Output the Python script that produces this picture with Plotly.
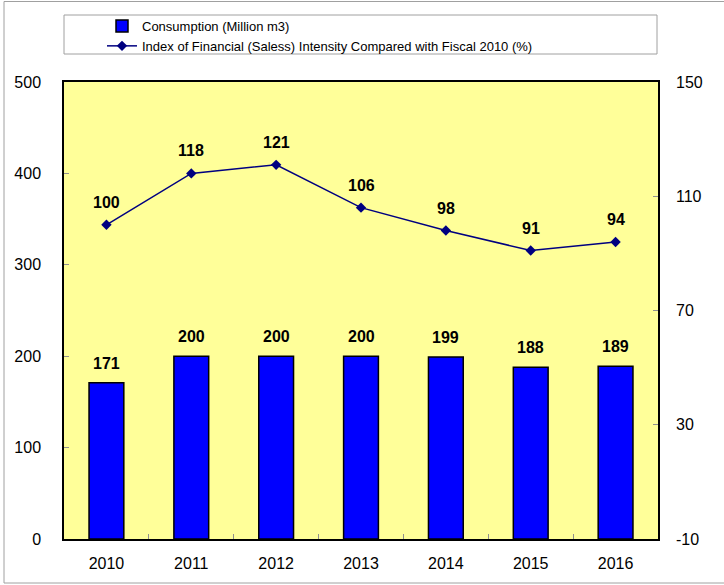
import plotly.graph_objects as go

years = ["2010", "2011", "2012", "2013", "2014", "2015", "2016"]
consumption = [171, 200, 200, 200, 199, 188, 189]
intensity = [100, 118, 121, 106, 98, 91, 94]
left_ticks = [0, 100, 200, 300, 400, 500]
right_ticks = [-10, 30, 70, 110, 150]

FONT = "Liberation Sans, Arial, sans-serif"
W, H = 724, 585
L, R, T, B = 64, 658, 82, 539

def px(x):
    return (x - L) / (R - L)

def py(y):
    return (B - y) / (B - T)

xi = list(range(len(years)))
bounds = [i + 0.5 for i in xi[:-1]]

fig = go.Figure()
fig.add_trace(go.Bar(
    x=xi, y=consumption, name="Consumption (Million m3)",
    marker=dict(color="#0000FF", line=dict(color="black", width=1.5)),
    yaxis="y",
))
fig.add_trace(go.Scatter(
    x=xi, y=intensity, name="Index of Financial (Saless) Intensity Compared with Fiscal 2010 (%)",
    mode="lines+markers", line=dict(color="#000080", width=1.5),
    marker=dict(symbol="diamond", size=8, color="#000080"),
    yaxis="y2",
))

annotations = []
for i, v in zip(xi, consumption):
    annotations.append(dict(x=i, y=v, xref="x", yref="y", text=str(v), showarrow=False,
                            yanchor="bottom", yshift=9,
                            font=dict(family=FONT, size=16, color="black", weight="bold")))
for i, v in zip(xi, intensity):
    annotations.append(dict(x=i, y=v, xref="x", yref="y2", text=str(v), showarrow=False,
                            yanchor="bottom", yshift=12,
                            font=dict(family=FONT, size=16, color="black", weight="bold")))

shapes = [
    dict(type="rect", xref="paper", yref="paper", x0=px(4), x1=px(730), y0=py(583), y1=py(1.5),
         line=dict(color="#A0A0A0", width=1), layer="below"),
    dict(type="rect", xref="paper", yref="paper", x0=px(64), x1=px(657), y0=py(54), y1=py(15),
         line=dict(color="#A0A0A0", width=1), layer="below"),
]

fig.update_layout(
    width=W, height=H,
    margin=dict(l=L, r=W - R, t=T, b=H - B, pad=0, autoexpand=False),
    paper_bgcolor="white", plot_bgcolor="#FFFF99",
    font=dict(family=FONT, size=16, color="black"),
    bargap=0.59,
    showlegend=True,
    legend=dict(xref="container", yref="container", x=102 / W, y=1 - 11 / H,
                xanchor="left", yanchor="top",
                bgcolor="rgba(0,0,0,0)", borderwidth=0,
                font=dict(family=FONT, size=13, color="black"),
                tracegroupgap=0),
    xaxis=dict(range=[-0.5, len(years) - 0.5], tickvals=xi, ticktext=years, automargin=False,
               showline=True, linecolor="black", linewidth=1.5, mirror=True,
               ticks="", showgrid=False, zeroline=False, tickfont=dict(size=16), ticklabelstandoff=9,
               minor=dict(tickvals=bounds, ticks="inside", ticklen=5, tickcolor="#909090", showgrid=False)),
    yaxis=dict(range=[0, 500], tickvals=left_ticks, ticktext=[str(v) for v in left_ticks],
               automargin=False, showline=True, linecolor="black", linewidth=1.5,
               mirror=True, ticks="inside", ticklen=5, tickcolor="#909090", showgrid=False,
               zeroline=False, tickfont=dict(size=16), ticklabelstandoff=18),
    yaxis2=dict(range=[-10, 150], tickvals=right_ticks, ticktext=[str(v) for v in right_ticks],
                overlaying="y", side="right", automargin=False,
                ticks="inside", ticklen=5, tickcolor="#909090", showgrid=False, zeroline=False,
                showline=False, tickfont=dict(size=16), ticklabelstandoff=17),
    annotations=annotations,
    shapes=shapes,
)

fig.write_html("out.html", post_script="document.body.style.margin='0';",
               config={"displayModeBar": False})
